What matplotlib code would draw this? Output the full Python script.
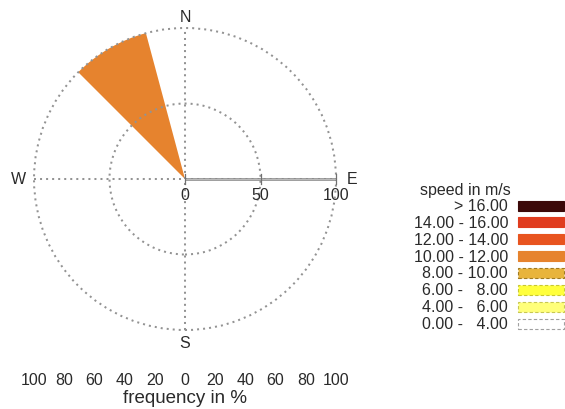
import matplotlib
matplotlib.use("Agg")
import matplotlib.pyplot as plt
from matplotlib.patches import Wedge, Circle, Rectangle
import numpy as np

plt.rcParams['font.family'] = ['Liberation Sans', 'DejaVu Sans']

# ---- data ----
speed_labels = ["> 16.00", "14.00 - 16.00", "12.00 - 14.00", "10.00 - 12.00",
                "8.00 - 10.00", "6.00 -   8.00", "4.00 -   6.00", "0.00 -   4.00"]
speed_colors = ["#3b0808", "#e03c1e", "#e8541f", "#e6832e",
                "#e8b43c", "#ffff3c", "#ffff7a", "#ffffff"]
directions = [330]          # compass degrees (sector centre)
frequencies = [100]         # percent
speed_class = ["10.00 - 12.00"]
sector_width = 30
ring_values = [50, 100]
ring_labels = ["0", "50", "100"]
freq_ticks = [100, 80, 60, 40, 20, 0, 20, 40, 60, 80, 100]
compass = ["N", "E", "S", "W"]

# ---- figure ----
W, H = 565, 410
dpi = 100
fig = plt.figure(figsize=(W / dpi, H / dpi), dpi=dpi)
ax = fig.add_axes([0, 0, 1, 1])
cx_px, cy_px, R_px = 185, 180, 151.0
s = R_px / 100.0
ax.set_xlim(-cx_px / s, (W - cx_px) / s)
ax.set_ylim(-(H - cy_px) / s, cy_px / s)
ax.axis("off")

txt_col = "#2a2a2a"
dot_ls = (0, (1.0, 2.0))
grid_kw = dict(color="#939393", lw=1.45, linestyle=dot_ls, zorder=3)

# wedges
for d, f, c in zip(directions, frequencies, speed_class):
    col = speed_colors[speed_labels.index(c)]
    a1 = 90 - (d + sector_width / 2)
    a2 = 90 - (d - sector_width / 2)
    ax.add_patch(Wedge((0, 0), f, a1, a2, facecolor=col, edgecolor="none", zorder=2))

# rings
for r in ring_values:
    ax.add_patch(Circle((0, 0), r, fill=False, edgecolor="#939393", lw=1.45,
                        linestyle=dot_ls, zorder=3))
# cross lines
ax.plot([-100, 100], [0, 0], **grid_kw)
ax.plot([0, 0], [-100, 100], **grid_kw)

# radial axis along E
ax.plot([0, 100], [0, 0], color="#8c8c8c", lw=1.9, zorder=4, solid_capstyle="butt")
ax.plot([0, 100], [0, 0], color="#cfcfcf", lw=0.5, zorder=4)
tick_pos = [0] + ring_values
for t, lab in zip(tick_pos, ring_labels):
    ax.plot([t, t], [-3.3, 3.3], color="#707070", lw=0.9, zorder=5)
    ax.text(t, -10.5, lab, ha="center", va="center", fontsize=11.5, color=txt_col)

# compass labels
off = 110.5
pos = {"N": (0, 107.5), "E": (off, 0.3), "S": (0, -108), "W": (-off, 0)}
for c in compass:
    x, y = pos[c]
    ax.text(x, y, c, ha="center", va="center", fontsize=11.5, color=txt_col)

# frequency scale
xs = np.linspace(-100, 100, len(freq_ticks))
for x, t in zip(xs, freq_ticks):
    ax.text(x, -132.5, str(t), ha="center", va="center", fontsize=11.5, color=txt_col)
ax.text(0, -144.5, "frequency in %", ha="center", va="center", fontsize=13.5, color=txt_col)

# legend
def px2d(px, py):
    return (px - cx_px) / s, (cy_px - py) / s

tx, ty = px2d(465, 190)
ax.text(tx, ty, "speed in m/s", ha="center", va="center", fontsize=11.5, color=txt_col)
row0, dy = 206.5, 16.86
for i, (lab, col) in enumerate(zip(speed_labels, speed_colors)):
    py = row0 + i * dy
    lx, ly = px2d(508, py)
    ax.text(lx, ly, lab, ha="right", va="center", fontsize=11.5, color=txt_col)
    rx, ry = px2d(518, py + 5)
    if i < 4:
        ec, ls = col, "solid"
    else:
        ec = {4: "#a07a20", 5: "#c8c830", 6: "#c8c850", 7: "#a0a0a0"}[i]
        ls = (0, (3, 2))
    ax.add_patch(Rectangle((rx, ry), 46 / s, 10 / s, facecolor=col, edgecolor=ec,
                           lw=0.8, linestyle=ls, zorder=3))

fig.savefig("out.png", dpi=dpi)
